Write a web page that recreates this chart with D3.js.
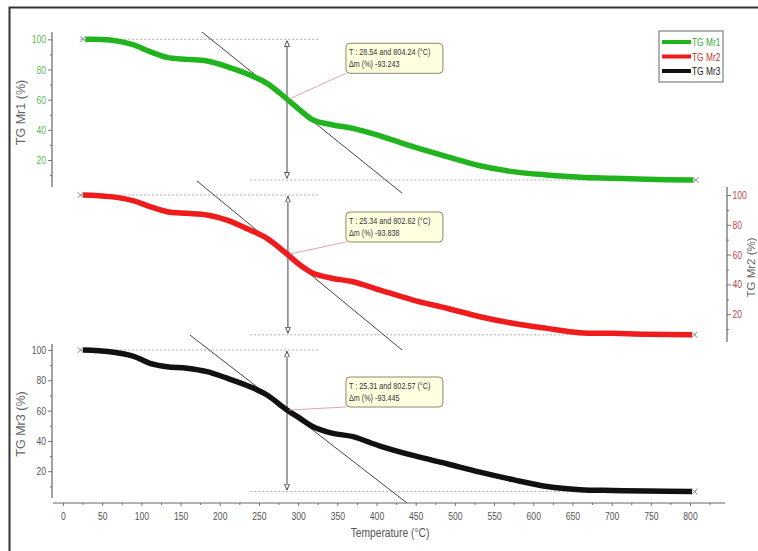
<!DOCTYPE html>
<html><head><meta charset="utf-8">
<script src="https://cdn.jsdelivr.net/npm/d3@7"></script>
<style>
html,body{margin:0;padding:0;background:#fff;}
svg{display:block;}
text{font-family:"Liberation Sans","Arial",sans-serif;}
</style></head>
<body>
<svg id="chart" width="758" height="551"></svg>
<script>
// ---------- data ----------
const temps = [25.5, 60, 89.3, 111, 132.7, 158.2, 183.7, 209.3, 238.6, 260.3, 285.8, 302.4, 319, 344.5, 370, 404.5, 446.6, 490, 532, 574.2, 617.5, 659.6, 701.8, 745.2, 805];
const mr1 = [100, 99.5, 96.5, 91.8, 88, 86.7, 85.6, 81.9, 76.3, 70.8, 60.4, 53.1, 46.5, 43.2, 41, 36, 28.8, 22.2, 16.2, 12.3, 10.1, 8.6, 7.9, 7.2, 6.76];
const mr2 = [100, 98.9, 96.2, 92.2, 88.8, 87.7, 86.6, 83.2, 76.5, 70.9, 60.4, 53, 47.5, 44, 41.8, 36.2, 29.5, 24, 18.3, 13.9, 10.5, 7.6, 7.2, 6.5, 6.16];
const mr3 = [100, 98.9, 96.0, 91.2, 89, 88, 85.7, 81.4, 75.8, 70.3, 60.4, 54.9, 49.4, 45, 42.8, 36.6, 30.4, 24.9, 19.4, 14.4, 9.9, 7.8, 7.3, 6.9, 6.55];
const seriesNames = ["TG Mr1", "TG Mr2", "TG Mr3"];
const axisTitles = ["TG Mr1 (%)", "TG Mr2 (%)", "TG Mr3 (%)"];
const tempStart = [28.54, 25.34, 25.31];
const tempEnd = [804.24, 802.62, 802.57];
const massLoss = ["-93.243", "-93.838", "-93.445"];
const inflectionT = [285.8, 287, 285.8];
const tangentT = [[177.4, 432.5], [171, 432.5], [162, 438.9]];
const tangentV = [[104.8, -1.9], [109.4, -4.0], [109.9, -1.0]];
const xTicks = [0, 50, 100, 150, 200, 250, 300, 350, 400, 450, 500, 550, 600, 650, 700, 750, 800];
const xMinor = [25, 75, 125, 175, 225, 275, 325, 375, 425, 475, 525, 575, 625, 675, 725, 775, 825];
const yTicks = [20, 40, 60, 80, 100];
const yMinor = [10, 30, 50, 70, 90];

// ---------- layout ----------
const colors = ["#22b41e", "#ee1c1c", "#111111"];
const tickColors = ["#5cb85c", "#b84a4a", "#555555"];
const panels = [
  {y100: 39.3, ppu: 1.509, top: 32, bottom: 187, side: "left", ax: 52, titleX: 21},
  {y100: 195, ppu: 1.49, top: 187, bottom: 342, side: "right", ax: 727, titleX: 752},
  {y100: 350, ppu: 1.515, top: 344, bottom: 498, side: "left", ax: 52, titleX: 21}
];
const seriesVals = [mr1, mr2, mr3];

const svg = d3.select("#chart");
const x = d3.scaleLinear().domain([0, 800]).range([63, 690]);

// outer frame
svg.append("path").attr("d", "M9.5,551 L9.5,7.5 L758,7.5").attr("fill", "none")
  .attr("stroke", "#333").attr("stroke-width", 2);

// arrow markers
const defs = svg.append("defs");
defs.append("marker").attr("id", "arr").attr("viewBox", "0 0 10 10")
  .attr("refX", 10).attr("refY", 5).attr("markerWidth", 6).attr("markerHeight", 6)
  .attr("markerUnits", "userSpaceOnUse").attr("orient", "auto-start-reverse")
  .append("path").attr("d", "M0,1 L10,5 L0,9 Z").attr("fill", "#fff").attr("stroke", "#444").attr("stroke-width", 1.5);

panels.forEach((p, i) => {
  const y = d3.scaleLinear().domain([0, 100]).range([p.y100 + 100 * p.ppu, p.y100]);
  const g = svg.append("g");
  const vals = seriesVals[i];
  const tt = temps.map((t, k) => k === 0 ? tempStart[i] : (k === temps.length - 1 ? tempEnd[i] : t));
  const finalV = vals[vals.length - 1];

  // y axis
  const axG = g.append("g").attr("transform", `translate(${p.ax},0)`);
  const axisFn = p.side === "left" ? d3.axisLeft : d3.axisRight;
  axG.append("g").call(axisFn(y).tickValues(yTicks).tickSize(4).tickPadding(p.side === "right" ? 1.5 : 2))
    .call(s => s.select(".domain").remove())
    .call(s => s.selectAll("line").attr("stroke", "#777"))
    .call(s => s.selectAll("text").attr("fill", tickColors[i]).attr("font-size", 11)
      .attr("font-family", '"Liberation Sans",sans-serif').attr("data-sx", 0.78));
  axG.append("g").call(axisFn(y).tickValues(yMinor).tickSize(2).tickFormat(""))
    .call(s => s.select(".domain").remove())
    .call(s => s.selectAll("line").attr("stroke", "#777"));
  axG.append("line").attr("y1", p.top).attr("y2", p.bottom).attr("stroke", "#666").attr("stroke-width", 1.2);

  const midY = (p.top + p.bottom) / 2 + 3;
  g.append("text").attr("transform", `translate(${p.titleX},${midY}) rotate(-90)`)
    .attr("text-anchor", "middle").attr("dominant-baseline", "middle")
    .attr("font-size", p.side === "right" ? 11.5 : 13.5).attr("fill", "#666").attr("data-sx", p.side === "right" ? 1 : 0.93)
    .text(axisTitles[i]);

  // dotted reference lines
  g.append("line").attr("x1", x(22)).attr("x2", x(328)).attr("y1", y(100)).attr("y2", y(100))
    .attr("stroke", "#aaa").attr("stroke-dasharray", "2,2");
  g.append("line").attr("x1", x(239)).attr("x2", x(810)).attr("y1", y(finalV)).attr("y2", y(finalV))
    .attr("stroke", "#aaa").attr("stroke-dasharray", "2,2");

  // tangent line
  g.append("line").attr("x1", x(tangentT[i][0])).attr("y1", y(tangentV[i][0]))
    .attr("x2", x(tangentT[i][1])).attr("y2", y(tangentV[i][1]))
    .attr("stroke", "#444").attr("stroke-width", 1);

  // vertical double arrow
  g.append("line").attr("x1", x(inflectionT[i])).attr("x2", x(inflectionT[i]))
    .attr("y1", y(99.2)).attr("y2", y(finalV + 1))
    .attr("stroke", "#444").attr("stroke-width", 1)
    .attr("marker-start", "url(#arr)").attr("marker-end", "url(#arr)");

  // curve
  const line = d3.line().x(d => x(d[0])).y(d => y(d[1])).curve(d3.curveCatmullRom.alpha(0.5));
  g.append("path").datum(tt.map((t, k) => [t, vals[k]])).attr("d", line)
    .attr("fill", "none").attr("stroke", colors[i]).attr("stroke-width", 5.5)
    .attr("stroke-linecap", "butt");

  // end markers
  [[tt[0] - 3, 100], [tt[tt.length - 1] + 3, finalV]].forEach(([t, v]) => {
    const cx = x(t), cy = y(v);
    g.append("path").attr("d", `M${cx-3},${cy-3}L${cx+3},${cy+3}M${cx-3},${cy+3}L${cx+3},${cy-3}`)
      .attr("stroke", "#888").attr("stroke-width", 1);
  });

  // annotation
  const bx = x(361), by = y(100) + 4 + (i === 0 ? 0 : (i === 1 ? 13 : 23)), bw = 97, bh = 30;
  g.append("line").attr("x1", x(inflectionT[i]) + 2).attr("y1", y(vals[10]))
    .attr("x2", bx).attr("y2", by + bh).attr("stroke", "#e3a3b3").attr("stroke-width", 1);
  g.append("rect").attr("x", bx).attr("y", by).attr("width", bw).attr("height", bh)
    .attr("rx", 4).attr("fill", "#ffffe0").attr("stroke", "#8a8a6a").attr("stroke-width", 1);
  g.append("text").attr("x", bx + 3).attr("y", by + 12).attr("font-size", 9.5).attr("fill", "#333")
    .attr("data-sx", 0.76)
    .text(`T : ${tempStart[i].toFixed(2)} and ${tempEnd[i].toFixed(2)} (°C)`);
  g.append("text").attr("x", bx + 3).attr("y", by + 24).attr("font-size", 9.5).attr("fill", "#333")
    .attr("data-sx", 0.76)
    .text(`Δm (%) ${massLoss[i]}`);
});

// x axis
const xG = svg.append("g").attr("transform", "translate(0,503)");
xG.append("g").call(d3.axisBottom(x).tickValues(xTicks).tickSize(3).tickPadding(6))
  .call(s => s.select(".domain").remove())
  .call(s => s.selectAll("line").attr("stroke", "#777"))
  .call(s => s.selectAll("text").attr("fill", "#555").attr("font-size", 11)
    .attr("font-family", '"Liberation Sans",sans-serif').attr("data-sx", 0.78));
xG.append("g").call(d3.axisBottom(x).tickValues(xMinor).tickSize(2).tickFormat(""))
  .call(s => s.select(".domain").remove())
  .call(s => s.selectAll("line").attr("stroke", "#777"));
xG.append("line").attr("x1", 53).attr("x2", 725).attr("stroke", "#666").attr("stroke-width", 1.2);
svg.append("text").attr("x", 390).attr("y", 537).attr("text-anchor", "middle")
  .attr("font-size", 12.5).attr("fill", "#555").attr("data-sx", 0.82).text("Temperature (°C)");

// legend
const lg = svg.append("g");
lg.append("rect").attr("x", 659).attr("y", 31).attr("width", 64).attr("height", 51)
  .attr("fill", "#fff").attr("stroke", "#666").attr("stroke-width", 1);
seriesNames.forEach((n, i) => {
  const ly = 42 + i * 14.5;
  lg.append("line").attr("x1", 662).attr("x2", 691).attr("y1", ly).attr("y2", ly)
    .attr("stroke", colors[i]).attr("stroke-width", 4);
  lg.append("text").attr("x", 692).attr("y", ly + 4).attr("font-size", 11)
    .attr("data-sx", 0.76)
    .attr("fill", i === 0 ? "#3aa83a" : (i === 1 ? "#c0392b" : "#222")).text(n);
});

// condense text horizontally (reference uses a narrow face)
svg.selectAll("text[data-sx]").each(function () {
  const s = +this.getAttribute("data-sx");
  if (s === 1) return;
  const len = this.getComputedTextLength();
  d3.select(this).attr("textLength", len * s).attr("lengthAdjust", "spacingAndGlyphs");
});
</script>
</body></html>
